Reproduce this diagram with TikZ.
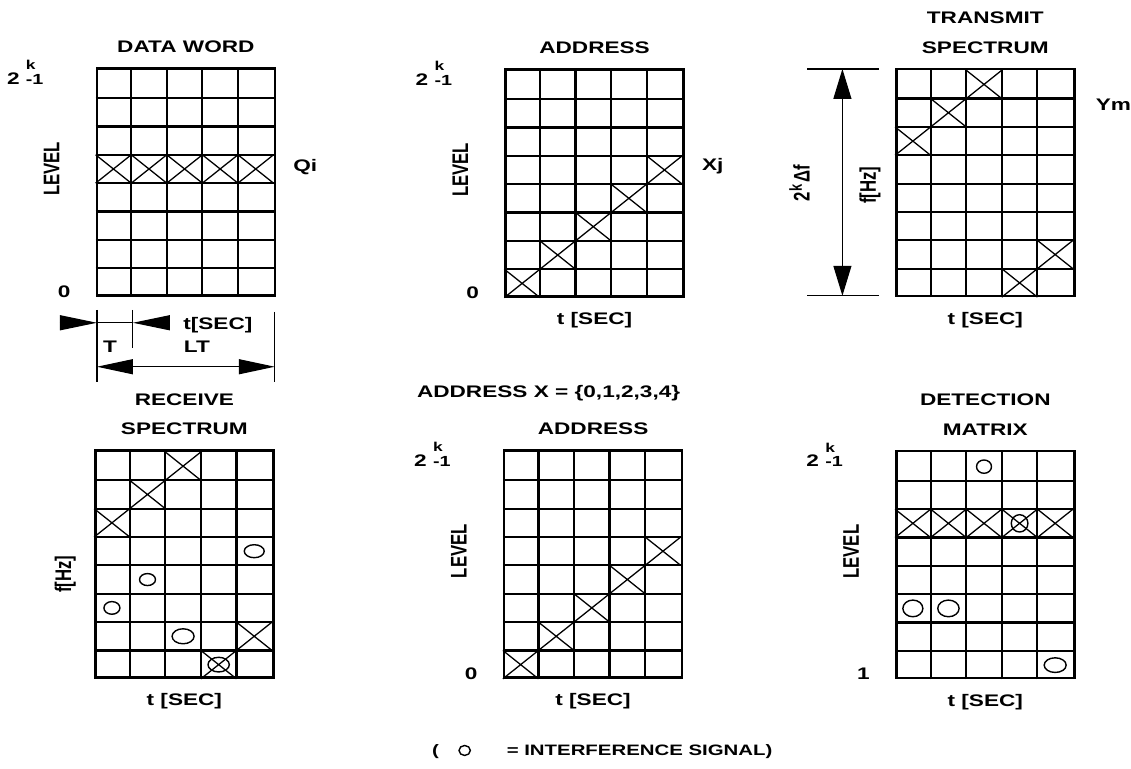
\documentclass[tikz,border=0pt]{standalone}
\usepackage{fontspec}
\setmainfont{Liberation Sans}
\usetikzlibrary{arrows.meta, positioning, calc}

\newcommand{\lblfont}{\fontsize{14.3}{25.5}\selectfont\bfseries}
\newcommand{\legfont}{\fontsize{12.9}{15}\selectfont\bfseries}
% 2^k-1 as printed: k over the -1
\newcommand{\twok}{2\hspace{4pt}\rlap{\raisebox{12.5pt}{\fontsize{11}{12}\selectfont k}}{\fontsize{12.5}{13}\selectfont -1}}

\tikzstyle{gridbox} = [rectangle, draw=black, line width=2.2pt,
minimum width=5.34cm,
minimum height=6.81cm,
inner sep=0pt]
\tikzstyle{cell} = [line width=1.9pt]
\tikzstyle{hit} = [line width=1.1pt]
\tikzstyle{sig} = [line width=1.2pt]
\tikzstyle{dim} = [line width=1pt]
\tikzstyle{lbl} = [font=\lblfont, inner sep=0pt, xscale=1.35]
\tikzstyle{vlbl} = [font=\lblfont, inner sep=0pt, rotate=90, yscale=1.35]
\tikzstyle{title} = [lbl, align=center]

% inner lines of a 5 x 8 grid, #2 = crossed cells col/row
\newcommand{\cells}[2]{%
  \begin{scope}[shift={(#1.south west)}, x=1.068cm, y=0.85125cm]
    \foreach \i in {1,...,4} \draw[cell] (\i,0) -- (\i,8);
    \foreach \j in {1,...,7} \draw[cell] (0,\j) -- (5,\j);
    \foreach \cx/\cy in {#2} \draw[hit] (\cx,\cy) -- ++(1,1) (\cx,\cy+1) -- ++(1,-1);
  \end{scope}}
% interference circle in a cell
\newcommand{\sigcell}[5]{%
  \begin{scope}[shift={(#1.south west)}, x=1.068cm, y=0.85125cm]
    \draw[sig] (#2+0.5,#3+0.5) ellipse [x radius=#4, y radius=#5];
  \end{scope}}

\tikzset{>=Triangle}

\begin{document}
\begin{tikzpicture}[x=0.03cm, y=-0.03cm]

\fill[white] (0,0) rectangle (1131,769);

% the six matrices
\node[gridbox] (dataword) at (186,182) {};
\node[gridbox] (addrtx) at (595,183) {};
\node[gridbox] (txspec) at (986,182.5) {};
\node[gridbox] (rxspec) at (184.5,564.5) {};
\node[gridbox] (addrrx) at (593.5,564.5) {};
\node[gridbox] (detect) at (986,565) {};

\cells{dataword}{0/4,1/4,2/4,3/4,4/4}
\cells{addrtx}{0/0,1/1,2/2,3/3,4/4}
\cells{txspec}{0/5,1/6,2/7,3/0,4/1}
\cells{rxspec}{0/5,1/6,2/7,3/0,4/1}
\cells{addrrx}{0/0,1/1,2/2,3/3,4/4}
\cells{detect}{0/5,1/5,2/5,3/5,4/5}

\sigcell{rxspec}{4}{4}{0.30cm}{0.195cm}
\sigcell{rxspec}{1}{3}{0.24cm}{0.18cm}
\sigcell{rxspec}{0}{2}{0.24cm}{0.19cm}
\sigcell{rxspec}{2}{1}{0.33cm}{0.225cm}
\sigcell{rxspec}{3}{0}{0.32cm}{0.22cm}
\sigcell{detect}{2}{7}{0.225cm}{0.2cm}
\sigcell{detect}{3}{5}{0.25cm}{0.26cm}
\sigcell{detect}{0}{2}{0.3cm}{0.25cm}
\sigcell{detect}{1}{2}{0.32cm}{0.25cm}
\sigcell{detect}{4}{0}{0.33cm}{0.22cm}

% titles
\node[title, above=0.42cm of dataword] (dwtitle) {DATA WORD};
\node[title, above=0.42cm of addrtx] (attitle) {ADDRESS};
\node[title, above=0.42cm of txspec] (txtitle) {TRANSMIT\\SPECTRUM};
\node[title, above=0.42cm of rxspec] (rxtitle) {RECEIVE\\SPECTRUM};
\node[title, above=0.42cm of addrrx] (artitle) {ADDRESS};
\node[title, above=0.42cm of detect] (dttitle) {DETECTION\\MATRIX};

% axis labels
\foreach \g in {addrtx, txspec, rxspec, addrrx, detect}
  \node[lbl, anchor=base] (\g-time) at ($(\g.south)+(0,27)$) {t [SEC]};
\foreach \g in {dataword, addrtx, addrrx, detect}
  \node[vlbl] (\g-level) at ($(\g.west)+(-44,-13)$) {LEVEL};
\foreach \g in {dataword, addrtx, addrrx, detect}
  \node[lbl, anchor=base west] (\g-top) at ($(\g.north west)+(-89,17)$) {\twok};
\foreach \g in {dataword, addrtx, addrrx}
  \node[lbl, anchor=base east] (\g-zero) at ($(\g.south west)+(-25,1)$) {0};
\node[lbl, anchor=base east] (detect-one) at ($(detect.south west)+(-25,0)$) {1};

\node[lbl, anchor=base west] (qi) at ($(dataword.east)+(17,-10)$) {Qi};
\node[lbl, anchor=base west] (xj) at ($(addrtx.east)+(17,-12)$) {Xj};
\node[lbl, anchor=base west] (ym) at ($(txspec.north east)+(20,43)$) {Ym};
\node[vlbl] (txhz) at ($(txspec.west)+(-25,3)$) {f[Hz]};
\node[vlbl] (rxhz) at ($(rxspec.west)+(-29,10)$) {f[Hz]};

% bandwidth of the transmit spectrum
\coordinate (bandtl) at (808,69);
\coordinate (bandtr) at (880,69);
\coordinate (bandbl) at (808,296);
\coordinate (bandbr) at (880,296);
\coordinate (bandtop) at (843,69);
\coordinate (bandbot) at (843,296);
\draw[dim] (bandtl) -- (bandtr);
\draw[dim] (bandbl) -- (bandbr);
\draw[dim, {Triangle[length=0.9cm,width=0.54cm]}-{Triangle[length=0.9cm,width=0.54cm]}] (bandtop) -- (bandbot);
\node[vlbl] (bandlbl) at (800,183) {2\raisebox{5pt}{\fontsize{11}{11}\selectfont k}\,Δf};

% chip time T and word time LT
\coordinate (ticka) at (97,310);
\coordinate (tickab) at (97,382);
\coordinate (tickb) at (133,310);
\coordinate (tickbb) at (133,348);
\coordinate (tickc) at (275,312);
\coordinate (tickcb) at (275,382);
\draw[dim] (ticka) -- (tickab);
\draw[dim] (tickb) -- (tickbb);
\draw[dim] (tickc) -- (tickcb);
\coordinate (tin) at (60,323);
\coordinate (ta) at (97,323);
\coordinate (tb) at (133,323);
\coordinate (tout) at (167,323);
\draw[dim, -{Triangle[length=1.11cm,width=0.45cm]}] (tin) -- (ta);
\draw[dim] (ta) -- (tb);
\draw[dim, -{Triangle[length=1.11cm,width=0.45cm]}] (tout) -- (tb);
\coordinate (lta) at (97,367);
\coordinate (ltb) at (275,367);
\draw[dim, {Triangle[length=1.08cm,width=0.45cm]}-{Triangle[length=1.08cm,width=0.45cm]}] (lta) -- (ltb);
\node[lbl, anchor=base west] (tlbl) at (103,353) {T};
\node[lbl, anchor=base] (ltlbl) at (197,353) {LT};
\node[lbl, anchor=base] (tsec) at (218,330) {t[SEC]};

\node[lbl, anchor=base] (addrset) at (549,398) {ADDRESS X = \{0,1,2,3,4\}};

% legend
\node[lbl, font=\legfont, anchor=base west] (legend) at (432,756) {(\hspace{43pt}= INTERFERENCE SIGNAL)};
\draw[sig] ($(legend.base west)+(33,-5)$) ellipse [x radius=0.17cm, y radius=0.15cm];

\end{tikzpicture}
\end{document}
